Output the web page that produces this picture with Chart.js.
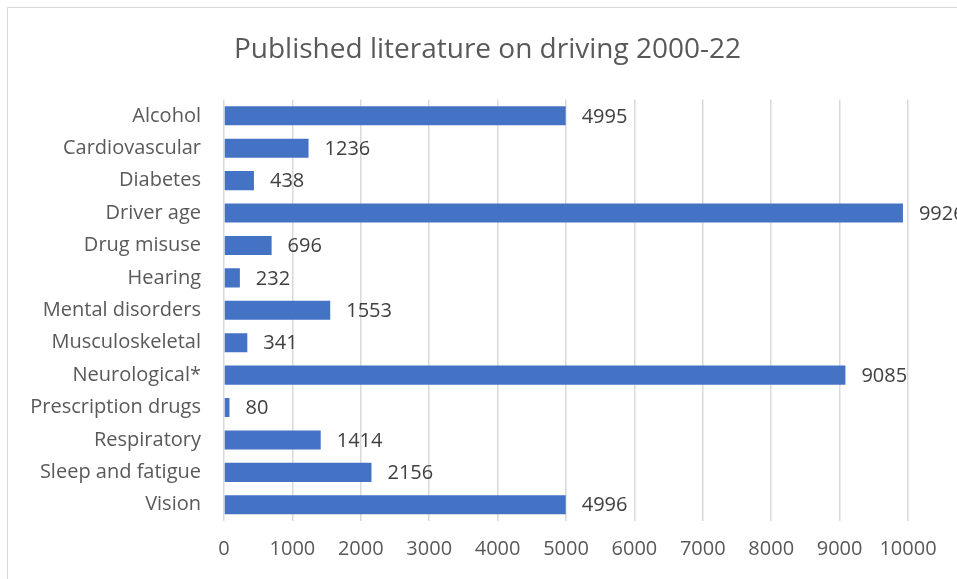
<!DOCTYPE html>
<html>
<head>
<meta charset="utf-8">
<script src="https://cdn.jsdelivr.net/npm/chart.js@4"></script>
<style>
  body { margin: 0; background: #fff; }
  #frame { position: absolute; left: 7px; top: 7px; width: 1000px; height: 620px; border: 1px solid #d9d9d9; }
  #wrap { position: absolute; left: 0; top: 0; width: 957px; height: 579px; }
</style>
</head>
<body>
<div id="frame"></div>
<div id="wrap"><canvas id="myChart"></canvas></div>
<script>
// DATA
const categories = ['Alcohol', 'Cardiovascular', 'Diabetes', 'Driver age', 'Drug misuse', 'Hearing',
  'Mental disorders', 'Musculoskeletal', 'Neurological*', 'Prescription drugs', 'Respiratory',
  'Sleep and fatigue', 'Vision'];
const publications = [4995, 1236, 438, 9926, 696, 232, 1553, 341, 9085, 80, 1414, 2156, 4996];
const xTicks = [0, 1000, 2000, 3000, 4000, 5000, 6000, 7000, 8000, 9000, 10000];

const fontFamily = "'Open Sans', sans-serif";

// value labels at the end of each bar
const barLabels = {
  id: 'barLabels',
  afterDatasetsDraw(chart) {
    const ctx = chart.ctx;
    const meta = chart.getDatasetMeta(0);
    ctx.save();
    ctx.font = '20px ' + fontFamily;
    ctx.fillStyle = '#404040';
    ctx.textAlign = 'left';
    ctx.textBaseline = 'middle';
    meta.data.forEach((bar, i) => {
      ctx.fillText(String(publications[i]), bar.x + 16, bar.y + 1);
    });
    ctx.restore();
  }
};

const ctx = document.getElementById('myChart').getContext('2d');
const myChart = new Chart(ctx, {
  type: 'bar',
  data: {
    labels: categories,
    datasets: [{
      data: publications,
      backgroundColor: '#4472C4',
      borderWidth: 0,
      categoryPercentage: 1,
      barPercentage: 0.59
    }]
  },
  plugins: [barLabels],
  options: {
    indexAxis: 'y',
    responsive: true,
    maintainAspectRatio: false,
    animation: false,
    layout: { padding: { top: 10, right: 0, bottom: 0, left: 18 } },
    plugins: {
      legend: { display: false },
      tooltip: { enabled: false },
      title: {
        display: true,
        text: 'Published literature on driving 2000-22',
        color: '#595959',
        font: { family: fontFamily, size: 28, weight: 'normal' },
        padding: { top: 23, bottom: 33 }
      }
    },
    scales: {
      x: {
        min: 0,
        max: 10000,
        afterBuildTicks(axis) { axis.ticks = xTicks.map(v => ({ value: v })); },
        afterFit(axis) { axis.height = 58; },
        grid: { color: '#d9d9d9', lineWidth: 1.5, drawTicks: false },
        border: { display: false },
        ticks: {
          color: '#595959',
          padding: 16,
          font: { family: fontFamily, size: 20 },
          callback: v => String(v)
        }
      },
      y: {
        afterFit(axis) { axis.width = 206; },
        grid: { display: false, drawTicks: false },
        border: { display: false },
        ticks: { color: '#595959', padding: 23, font: { family: fontFamily, size: 20 } }
      },
      // empty right-hand axis, only reserves room for the value labels
      yRight: {
        type: 'category',
        position: 'right',
        afterFit(axis) { axis.width = 49; },
        grid: { display: false, drawTicks: false },
        border: { display: false },
        ticks: { display: false }
      }
    }
  }
});
</script>
</body>
</html>
